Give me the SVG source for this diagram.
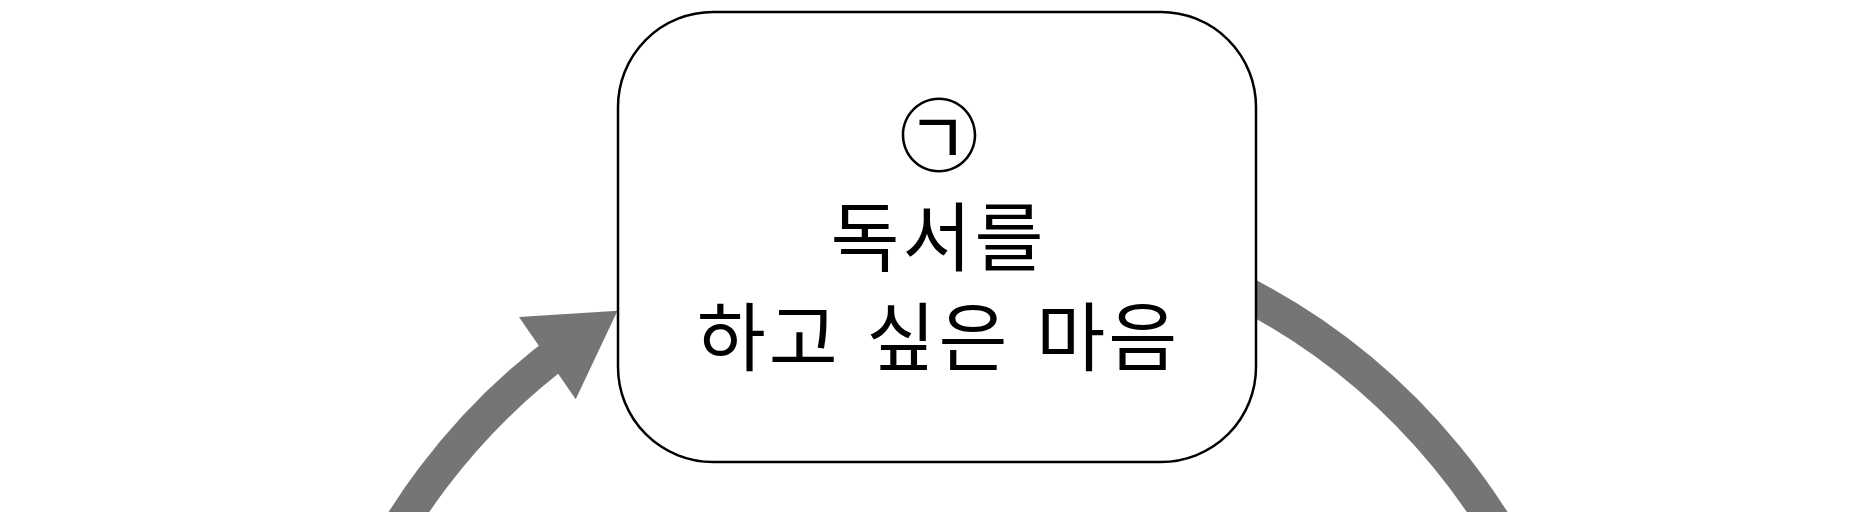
<svg xmlns="http://www.w3.org/2000/svg" width="1875" height="512" viewBox="0 0 1875 512">
  <style>
    .flow { fill: none; stroke: #757575; stroke-width: 34; }
    .head { fill: #757575; stroke: none; }
    .box { fill: #ffffff; stroke: #000000; stroke-width: 2.5; }
    .label { font-family: "Noto Sans CJK KR", "Noto Sans", sans-serif; font-size: 75px; fill: #000000; text-anchor: middle; letter-spacing: 3px; word-spacing: 6px; }
    .mark { font-family: "Noto Sans CJK KR", "Noto Sans", sans-serif; font-size: 80px; fill: #000000; text-anchor: middle; }
  </style>
  <g id="connectors">
    <path class="flow" d="M 341.9 645.4 A 645 645 0 0 1 568.9 344.2"/>
    <polygon class="head" points="519,317 617.5,310.7 575.7,399.3"/>
    <path class="flow" d="M 1230.8 286.3 A 645 645 0 0 1 1571 699.1"/>
  </g>
  <g id="node-reading">
    <rect class="box" x="618" y="12" width="638" height="450" rx="95" ry="95"/>
    <text class="mark" x="939" y="165">㉠</text>
    <text class="label" x="938.5" y="265">독서를</text>
    <text class="label" x="938.5" y="365">하고 싶은 마음</text>
  </g>
</svg>
